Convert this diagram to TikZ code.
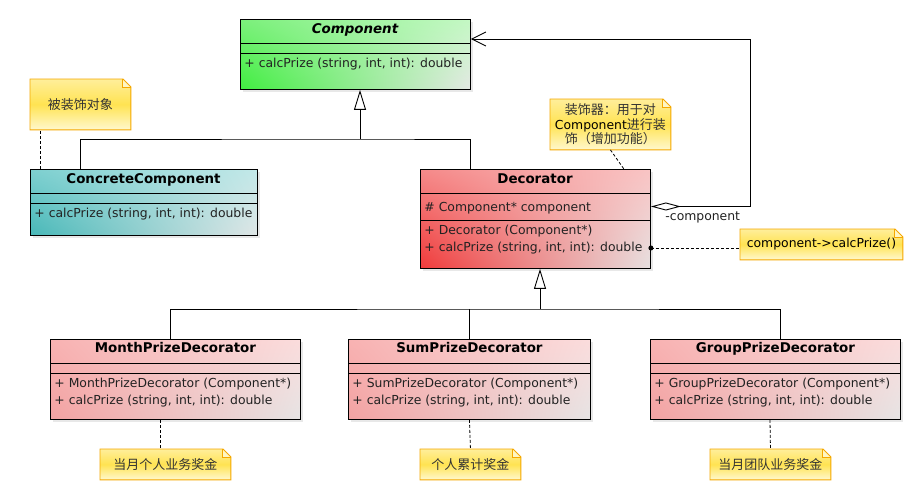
\documentclass[tikz,border=0pt]{standalone}
\usepackage{fontspec}
\setmainfont{DejaVu Sans}
\newfontfamily\cjk{Noto Sans CJK SC}
\usetikzlibrary{arrows.meta,positioning,shadows,shadings}

\definecolor{grnUL}{HTML}{7CF07C}
\definecolor{grnUR}{HTML}{C4F8C4}
\definecolor{grnLL}{HTML}{40EE40}
\definecolor{grnLR}{HTML}{E4E8E4}
\definecolor{tealUL}{HTML}{7ED0D0}
\definecolor{tealUR}{HTML}{C2E8E8}
\definecolor{tealLL}{HTML}{48B8B8}
\definecolor{tealLR}{HTML}{E0E6E6}
\definecolor{redUL}{HTML}{F58A8A}
\definecolor{redUR}{HTML}{F9C4C4}
\definecolor{redLL}{HTML}{F03A3A}
\definecolor{redLR}{HTML}{E6E0E0}
\definecolor{pinkUL}{HTML}{F8B2B2}
\definecolor{pinkUR}{HTML}{FBDCDC}
\definecolor{pinkLL}{HTML}{F3A2A2}
\definecolor{pinkLR}{HTML}{E6E4E4}
\definecolor{noteTop}{HTML}{FFEE99}
\definecolor{noteMid}{HTML}{FFE352}
\definecolor{noteBot}{HTML}{FFF8CC}
\definecolor{noteEdge}{HTML}{F5A800}
\definecolor{noteFold}{HTML}{FFF6C4}
\definecolor{txt}{HTML}{222222}

\newcommand{\memberfont}{\fontsize{12.4}{15}\selectfont}
\newcommand{\titlefont}{\fontsize{13.4}{16}\selectfont\bfseries}
\newcommand{\cjkfont}{\cjk\fontsize{13}{14.4}\selectfont}

% outline and folded corner of a note
\newcommand{\foldnote}[1]{
  \fill[white] ([xshift=-8pt]#1.north east) -- (#1.north east) -- ([yshift=-8pt]#1.north east) -- cycle;
  \draw[noteline, fill=noteFold] ([xshift=-8pt]#1.north east) -- ([xshift=-8pt,yshift=-8pt]#1.north east) -- ([yshift=-8pt]#1.north east);
  \draw[noteline] (#1.south west) -- (#1.north west) -- ([xshift=-8pt]#1.north east)
    -- ([yshift=-8pt]#1.north east) -- (#1.south east) -- cycle;
}

\begin{document}
\begin{tikzpicture}[x=1pt,y=-1pt,line width=0.9pt,
  cls/.style={draw, anchor=north west, inner sep=0pt,
    drop shadow={shadow xshift=3pt,shadow yshift=-3pt,opacity=0.18}},
  greenfill/.style={shade, upper left=grnUL, upper right=grnUR, lower left=grnLL, lower right=grnLR},
  tealfill/.style={shade, upper left=tealUL, upper right=tealUR, lower left=tealLL, lower right=tealLR},
  redfill/.style={shade, upper left=redUL, upper right=redUR, lower left=redLL, lower right=redLR},
  pinkfill/.style={shade, upper left=pinkUL, upper right=pinkUR, lower left=pinkLL, lower right=pinkLR},
  title/.style={anchor=base, inner sep=0pt, font=\titlefont, text=black},
  member/.style={anchor=base west, inner sep=0pt, font=\memberfont, text=txt},
  note/.style={anchor=north west, inner sep=0pt, align=center, font=\cjkfont, text=black!80,
    shade, top color=noteTop, bottom color=noteBot, middle color=noteMid},
  noteline/.style={draw=noteEdge, line width=0.9pt},
  notelink/.style={line width=0.8pt, dash pattern=on 3pt off 2pt},
  generalize/.style={-{Triangle[open,length=20pt,width=12pt]}},
  aggregate/.style={{Diamond[open,length=30pt,width=8pt]}-{Straight Barb[length=14pt,width=14pt]}}]

  \path[fill=white, use as bounding box] (0,0) rectangle (916,494);

  % Component
  \node[cls, greenfill, minimum width=230pt, minimum height=70pt] (comp) at (240,19) {};
  \draw ([yshift=-24pt]comp.north west) -- ([yshift=-24pt]comp.north east);
  \draw ([yshift=-34pt]comp.north west) -- ([yshift=-34pt]comp.north east);
  \node[title, font=\titlefont\itshape] (comp-t) at (355,33.3) {Component};
  \node[member] (comp-m1) at (244,67.8) {+ calcPrize (string, int, int): double};

  % ConcreteComponent
  \node[cls, tealfill, minimum width=227pt, minimum height=66pt] (conc) at (30,169) {};
  \draw ([yshift=-24pt]conc.north west) -- ([yshift=-24pt]conc.north east);
  \draw ([yshift=-34pt]conc.north west) -- ([yshift=-34pt]conc.north east);
  \node[title] (conc-t) at (143.5,183.2) {ConcreteComponent};
  \node[member] (conc-m1) at (34,217.8) {+ calcPrize (string, int, int): double};

  % Decorator
  \node[cls, redfill, minimum width=230pt, minimum height=99pt] (deco) at (420,169) {};
  \draw ([yshift=-24pt]deco.north west) -- ([yshift=-24pt]deco.north east);
  \draw ([yshift=-51pt]deco.north west) -- ([yshift=-51pt]deco.north east);
  \node[title] (deco-t) at (535,183.2) {Decorator};
  \node[member] (deco-a1) at (424,211.2) {\# Component* component};
  \node[member] (deco-m1) at (424,234.5) {+ Decorator (Component*)};
  \node[member] (deco-m2) at (424,251.2) {+ calcPrize (string, int, int): double};

  % concrete decorators
  \foreach \n/\x/\w/\t in {month/50/250/MonthPrizeDecorator,
      sum/348/242/SumPrizeDecorator, group/650/250/GroupPrizeDecorator} {
    \node[cls, pinkfill, minimum width=\w pt, minimum height=80pt] (\n) at (\x,339) {};
    \draw ([yshift=-24pt]\n.north west) -- ([yshift=-24pt]\n.north east);
    \draw ([yshift=-34pt]\n.north west) -- ([yshift=-34pt]\n.north east);
    \node[title] (\n-t) at ([yshift=-14pt]\n.north) {\t};
    \node[member] (\n-m1) at (\x+4,387.8) {+ \t\ (Component*)};
    \node[member] (\n-m2) at (\x+4,404.5) {+ calcPrize (string, int, int): double};
  }

  % notes
  \node[note, minimum width=100pt, minimum height=50pt] (ncc) at (30,79) {被装饰对象};
  \foldnote{ncc}
  \node[note, minimum width=120pt, minimum height=50pt] (ndeco) at (550,99)
    {装饰器：用于对\\{\memberfont\rmfamily\color{black}Component}进行装\\饰（增加功能）};
  \foldnote{ndeco}
  \node[note, minimum width=162pt, minimum height=30pt, font=\memberfont, text=black] (ncall) at (740,229)
    {component->calcPrize()};
  \foldnote{ncall}
  \node[note, minimum width=130pt, minimum height=30pt] (nmonth) at (100,449) {当月个人业务奖金};
  \foldnote{nmonth}
  \node[note, minimum width=100pt, minimum height=30pt] (nsum) at (420,449) {个人累计奖金};
  \foldnote{nsum}
  \node[note, minimum width=120pt, minimum height=30pt] (ngroup) at (710,449) {当月团队业务奖金};
  \foldnote{ngroup}

  % generalization
  \coordinate (genA) at (360,139);
  \draw ([xshift=50pt]conc.north west) |- (genA) -| ([xshift=50pt]deco.north west);
  \draw[generalize] (genA) -- ([xshift=120pt]comp.south west);
  \coordinate (genB) at (540,309);
  \draw ([xshift=120pt]month.north west) |- (genB) -| ([xshift=130pt]group.north west);
  \draw (sum.north) -- (sum.north |- genB);
  \draw[generalize] (genB) -- ([xshift=120pt]deco.south west);

  % aggregation
  \coordinate (aggcorner) at (750,39);
  \draw[aggregate] ([yshift=-37.5pt]deco.north east) -| (aggcorner) -- ([yshift=-20pt]comp.north east);
  \node[member] (agg-lbl) at (665,220.5) {-component};

  % note links
  \draw[notelink] ([xshift=10pt]conc.north west) -- ([xshift=10pt]ncc.south west);
  \draw[notelink] (ndeco.south) -- ([xshift=-27pt]deco.north east);
  \coordinate (dotpt) at ([yshift=-79pt]deco.north east);
  \fill (dotpt) circle (2.5pt);
  \draw[notelink] (dotpt) -- (dotpt -| ncall.west);
  \draw[notelink] ([xshift=110pt]month.south west) -- ([xshift=60pt]nmonth.north west);
  \draw[notelink] (sum.south) -- (nsum.north);
  \draw[notelink] ([xshift=120pt]group.south west) -- (ngroup.north);
\end{tikzpicture}
\end{document}
